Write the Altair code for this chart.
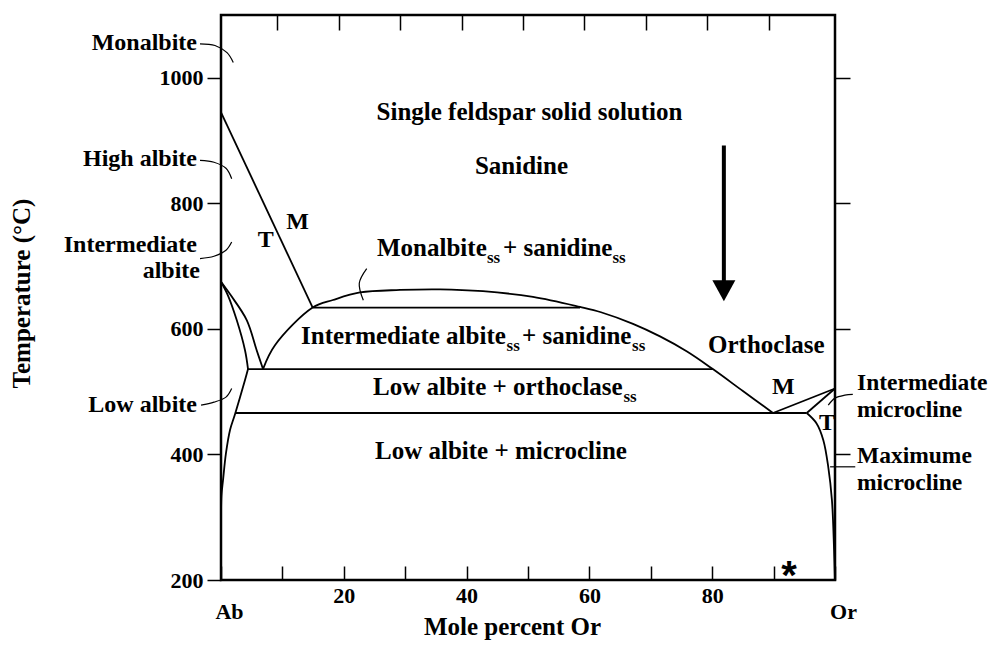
import altair as alt
import pandas as pd

FONT = "Liberation Serif"

# ---------------- axis ticks ----------------
x_ticks = [0, 10, 20, 30, 40, 50, 60, 70, 80, 90, 100]
x_top_ticks = [9.2, 19.2, 29.2, 39.2, 49.2, 59.2, 69.2, 79.2, 89.2]
y_left_ticks = [200, 400, 600, 800, 1000]
y_right_ticks = [400, 600, 800, 1000]

# ---------------- phase boundaries (mole % Or, temperature degC) ----------------
tm_albite_x = [0, 14.93]
tm_albite_T = [945, 634]

solvus_x = [6.84, 8.79, 14.93, 18.24, 22.64, 29.15, 35.67, 42.67, 50.81, 58.47,
            61.89, 67.1, 71.5, 75.9, 80.1, 85.0, 89.9]
solvus_T = [536, 574, 634, 646, 658, 662, 663, 660, 651, 635,
            626.5, 608, 588, 564, 536, 501, 466]

tie634_x = [14.93, 58.47]
tie634_T = [634, 634]
tie536_x = [4.4, 80.1]
tie536_T = [536, 536]
tie466_x = [2.28, 95.4]
tie466_T = [466, 466]

albite_outer_x = [0, 1.63, 4.19, 5.81, 6.84]
albite_outer_T = [675, 653, 614, 566, 536]
albite_inner_x = [0, 1.14, 2.56, 3.91, 4.4]
albite_inner_T = [675, 653, 614, 566, 536]
low_albite_x = [4.4, 3.9, 2.28, 1.47, 0.81, 0.33, 0.08, 0]
low_albite_T = [536, 518, 464, 439, 402, 359, 335, 300]

micro_M_x = [89.9, 100]
micro_M_T = [466, 505]
micro_T_x = [95.4, 100]
micro_T_T = [466, 505]
microcline_x = [95.4, 97.0, 98.1, 98.9, 99.5, 99.85, 100]
microcline_T = [466, 449.4, 422.8, 380.3, 327.3, 247.7, 200]

# ---------------- leader lines ----------------
lead_monalbite_x = [-3.42, -0.98, 0.98, 2.0]
lead_monalbite_T = [1054, 1051.5, 1040, 1024.5]
lead_high_x = [-3.42, -1.14, 0.81, 1.74]
lead_high_T = [868.5, 865.4, 855.8, 839.3]
lead_int_x = [-3.42, -1.14, 0.81, 1.74]
lead_int_T = [712, 715.7, 725.2, 738.4]
lead_low_x = [-3.25, -1.14, 0.81, 1.74]
lead_low_T = [478.5, 483.3, 491.3, 505.1]
lead_mss_x = [23.18, 22.52, 23.73]
lead_mss_T = [645.6, 672.7, 696]
lead_imic_x = [98.9, 100, 101.6, 102.9]
lead_imic_T = [478.5, 489.7, 494.4, 495.6]
lead_mmic_x = [99.2, 103.3]
lead_mmic_T = [380.3, 380.3]

# ---------------- arrow ----------------
arrow_x = [81.9]
arrow_top = [892.3]
arrow_bottom = [674.3]
arrow_head_T = [660.8]

# ---------------- labels ----------------
region_labels = ["Single feldspar solid solution", "Sanidine", "Low albite + microcline"]
region_x = [50.24, 48.94, 45.6]
region_T = [932.1, 847.3, 392.6]

main_pieces = ["Monalbite", "+ sanidine", "Intermediate albite", "+ sanidine", "Low albite + orthoclase", "Orthoclase"]
main_x = [25.41, 45.93, 13.03, 49.02, 24.76, 79.32]
main_T = [716.5, 716.5, 576.1, 576.1, 494.9, 560.8]

sub_pieces = ["ss", "ss", "ss", "ss", "ss"]
sub_x = [43.32, 63.76, 46.5, 66.94, 65.55]
sub_T = [705.3, 705.3, 565.3, 565.3, 484.1]

mt_labels = ["M", "T", "M", "T"]
mt_x = [12.46, 7.3, 91.6, 98.7]
mt_T = [759.8, 730.5, 496.0, 438.7]

left_labels = ["Monalbite", "High albite", "Intermediate", "albite", "Low albite"]
left_x = [-3.91, -3.91, -3.91, -3.42, -3.91]
left_T = [1043.5, 858.9, 722.0, 680.7, 467.4]

right_labels = ["Intermediate", "microcline", "Maximume", "microcline"]
right_x = [103.58, 103.58, 103.58, 103.58]
right_T = [503.3, 459.4, 386.2, 343.2]

star_label = ["*"]
star_x = [92.5]
star_T = [186.0]

# ---------------- build tables ----------------
def seg_table(d):
    rows = []
    for name, (xs_, ts_) in d.items():
        for i, (a, b) in enumerate(zip(xs_, ts_)):
            rows.append({"seg": name, "i": i, "x": a, "T": b})
    return pd.DataFrame(rows)

bdf = seg_table({
    "tm_albite": (tm_albite_x, tm_albite_T),
    "solvus": (solvus_x, solvus_T),
    "tie634": (tie634_x, tie634_T),
    "tie536": (tie536_x, tie536_T),
    "tie466": (tie466_x, tie466_T),
    "albite_outer": (albite_outer_x, albite_outer_T),
    "albite_inner": (albite_inner_x, albite_inner_T),
    "low_albite": (low_albite_x, low_albite_T),
    "micro_M": (micro_M_x, micro_M_T),
    "micro_T": (micro_T_x, micro_T_T),
    "microcline": (microcline_x, microcline_T),
})
ldf = seg_table({
    "l1": (lead_monalbite_x, lead_monalbite_T),
    "l2": (lead_high_x, lead_high_T),
    "l3": (lead_int_x, lead_int_T),
    "l4": (lead_low_x, lead_low_T),
    "l5": (lead_mss_x, lead_mss_T),
    "l6": (lead_imic_x, lead_imic_T),
    "l7": (lead_mmic_x, lead_mmic_T),
})

xs = alt.Scale(domain=[0, 100], nice=False, zero=False)
ys = alt.Scale(domain=[200, 1100], nice=False, zero=False)

bottom_axis = alt.Axis(
    orient="bottom", values=x_ticks, offset=-14, tickSize=14, tickWidth=1.5,
    domain=False, grid=False, labelFlush=False, labelOverlap=False, labelBound=False,
    labelExpr="datum.value == 0 ? 'Ab' : (datum.value == 100 ? 'Or' : (datum.value % 20 == 0 ? datum.label : ''))",
    labelFontSize=22,
    labelPadding={"condition": {"test": "datum.value == 0 || datum.value == 100", "value": 21}, "value": 5},
    labelOffset={"condition": {"test": "datum.value == 0 || datum.value == 100", "value": 8}, "value": 0},
    title="Mole percent Or", titleFontSize=25, titleX=291, titleY=68,
    titleBaseline="alphabetic", titleAlign="center",
)
left_axis = alt.Axis(
    orient="left", values=y_left_ticks, format="d", tickSize=14, tickWidth=1.5, domain=False, grid=False,
    labelFontSize=22, labelPadding=4, labelOverlap=False, labelFlush=False,
    title="Temperature (°C)", titleFontSize=25, titleX=-200, titleY=278, titleAngle=270,
    titleBaseline="middle", titleAlign="center",
)
top_axis = alt.Axis(orient="top", values=x_top_ticks, offset=-15, tickSize=15, tickWidth=1.5,
                    domain=False, grid=False, labels=False, title=None)
right_axis = alt.Axis(orient="right", values=y_right_ticks, tickSize=15, tickWidth=1.5,
                      domain=False, grid=False, labels=False, title=None)

lines = alt.Chart(bdf).mark_line(interpolate="catmull-rom", color="black", strokeWidth=1.8).encode(
    x=alt.X("x:Q", scale=xs, axis=bottom_axis),
    y=alt.Y("T:Q", scale=ys, axis=left_axis),
    detail="seg:N", order="i:Q",
)
leaders = alt.Chart(ldf).mark_line(interpolate="catmull-rom", color="black", strokeWidth=1.2).encode(
    x=alt.X("x:Q", scale=xs, axis=top_axis),
    y=alt.Y("T:Q", scale=ys, axis=right_axis),
    detail="seg:N", order="i:Q",
)

adf = pd.DataFrame({"x": arrow_x, "top": arrow_top, "bottom": arrow_bottom, "head": arrow_head_T})
shaft = alt.Chart(adf).mark_rule(color="black", strokeWidth=4).encode(
    x=alt.X("x:Q", scale=xs, axis=None),
    y=alt.Y("top:Q", scale=ys, axis=None),
    y2="bottom:Q",
)
head = alt.Chart(adf).mark_point(shape="M-1,-0.91L1,-0.91L0,0.91Z", size=529, filled=True,
                                 color="black", opacity=1, strokeWidth=0).encode(
    x=alt.X("x:Q", scale=xs, axis=None),
    y=alt.Y("head:Q", scale=ys, axis=None),
)


def text_layer(labels, xv, tv, size, align="center", font=FONT):
    df = pd.DataFrame({"x": xv, "T": tv, "label": labels})
    return alt.Chart(df).mark_text(font=font, fontWeight="bold", fontSize=size, align=align,
                                   baseline="alphabetic", color="black").encode(
        x=alt.X("x:Q", scale=xs, axis=None),
        y=alt.Y("T:Q", scale=ys, axis=None),
        text="label:N",
    )


texts = [
    text_layer(region_labels, region_x, region_T, 25, "center"),
    text_layer(main_pieces, main_x, main_T, 25, "left"),
    text_layer(sub_pieces, sub_x, sub_T, 17, "left"),
    text_layer(mt_labels, mt_x, mt_T, 24, "center"),
    text_layer(left_labels, left_x, left_T, 24, "right"),
    text_layer(right_labels, right_x, right_T, 23.5, "left"),
    text_layer(star_label, star_x, star_T, 40, "center", font="Liberation Sans"),
]

chart = alt.layer(lines, leaders, shaft, head, *texts).resolve_axis(
    x="independent", y="independent"
).properties(
    width=614, height=565,
    padding={"left": 213, "top": 7, "right": 155, "bottom": 60},
    autosize=alt.AutoSizeParams(type="none"),
).configure_view(
    stroke="black", strokeWidth=2.5
).configure_axis(
    labelFont=FONT, titleFont=FONT, labelFontWeight="bold", titleFontWeight="bold",
    labelColor="black", titleColor="black", tickColor="black",
)

chart.save("out.html", embed_options={"renderer": "svg", "actions": False})
